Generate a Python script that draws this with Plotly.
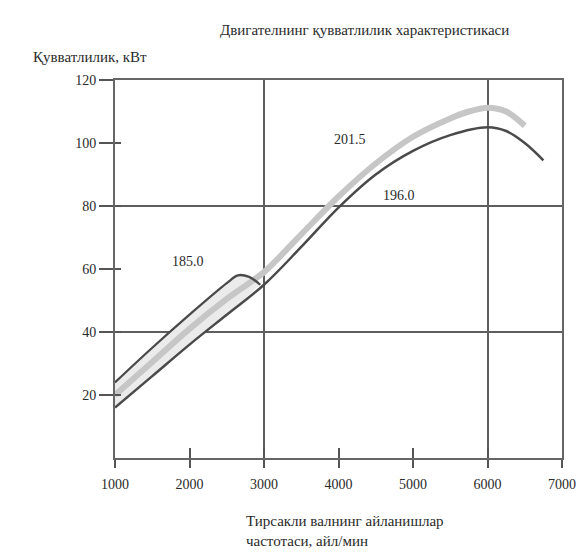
import plotly.graph_objects as go

# --- data ---
rpm_low = [1000, 1500, 2000, 2500, 3000, 3500, 4000, 4500, 5000, 5500, 6000, 6250, 6500, 6750]
kw_low = [16, 26, 36, 45.5, 55, 67, 79.5, 90, 97.5, 102.5, 105, 103.8, 100, 94.5]

rpm_light = [1000, 1500, 2000, 2500, 3000, 3500, 4000, 4500, 5000, 5500, 5750, 6000, 6250, 6500]
kw_light = [20, 30.5, 41, 50.5, 59, 71, 83, 93.5, 102, 107.8, 110, 111.2, 110, 105.5]

rpm_up = [1000, 1500, 2000, 2500, 2650, 2800, 2950]
kw_up = [24, 35, 45.5, 55.5, 58, 57.5, 55]

label_text = ["185.0", "201.5", "196.0"]
label_x = [1975, 4160, 4810]
label_y = [62.4, 101, 83.2]

x_ticks = [1000, 2000, 3000, 4000, 5000, 6000, 7000]
y_ticks = [20, 40, 60, 80, 100, 120]
x_grid = [3000, 6000]
y_grid = [40, 80]

title_text = "Двигателнинг қувватлилик характеристикаси"
y_title = "Қувватлилик, кВт"
x_title = "Тирсакли валнинг айланишлар<br>частотаси, айл/мин"

FONT = "Liberation Serif"
DARK = "#4a4a4a"
TXT = "#2a2a2a"

W, H = 580, 544
L, R, T, B = 107, 21, 72, 94
PW, PH = W - L - R, H - T - B


def px(x):
    return (x - L) / PW


def py(y):
    return (H - B - y) / PH


fig = go.Figure()

# light band between the two dark lines at low speed
k = sum(1 for v in rpm_low if v <= rpm_up[-1])
fig.add_trace(go.Scatter(
    x=rpm_up + rpm_low[:k][::-1], y=kw_up + kw_low[:k][::-1],
    fill="toself", fillcolor="#ebebeb", line=dict(width=0),
    mode="lines", hoverinfo="skip", showlegend=False))

fig.add_trace(go.Scatter(x=rpm_light, y=kw_light, mode="lines",
                         line=dict(color="#c6c6c6", width=6, shape="spline", smoothing=0.8),
                         showlegend=False))
fig.add_trace(go.Scatter(x=rpm_up, y=kw_up, mode="lines",
                         line=dict(color=DARK, width=2.3, shape="spline"),
                         showlegend=False))
fig.add_trace(go.Scatter(x=rpm_low, y=kw_low, mode="lines",
                         line=dict(color=DARK, width=2.5, shape="spline", smoothing=1.0),
                         showlegend=False))

for t, xv, yv in zip(label_text, label_x, label_y):
    fig.add_annotation(x=xv, y=yv, text=t, showarrow=False,
                       font=dict(family=FONT, size=14, color=TXT))

axis_common = dict(showline=True, linecolor="#666666", linewidth=2, mirror=True,
                   ticks="outside", tickcolor="#555555", tickwidth=2,
                   tickfont=dict(family=FONT, size=14, color=TXT),
                   showgrid=False, zeroline=False)

fig.update_layout(
    width=W, height=H,
    margin=dict(l=L, r=R, t=T, b=B),
    paper_bgcolor="white", plot_bgcolor="white",
    xaxis=dict(range=[1000, 7000], tickvals=x_ticks, ticklen=8,
               ticklabelstandoff=4,
               minor=dict(tickvals=x_grid, showgrid=True, gridcolor="#5e5e5e",
                          gridwidth=2, ticks=""),
               **axis_common),
    yaxis=dict(range=[0, 120], tickvals=y_ticks, ticklen=14,
               minor=dict(tickvals=y_grid, showgrid=True, gridcolor="#5e5e5e",
                          gridwidth=2, ticks=""),
               **axis_common),
    xaxis2=dict(overlaying="x", matches="x", side="bottom", ticks="inside",
                ticklen=10, tickwidth=2, tickcolor="#555555", tickvals=x_ticks,
                showticklabels=False, showgrid=False, zeroline=False, showline=False),
    yaxis2=dict(overlaying="y", matches="y", side="left", ticks="inside",
                ticklen=6, tickwidth=2, tickcolor="#555555", tickvals=y_ticks,
                showticklabels=False, showgrid=False, zeroline=False, showline=False),
    font=dict(family=FONT, size=14, color=TXT),
)

# invisible trace to activate the overlay axes (inner tick marks)
fig.add_trace(go.Scatter(x=[rpm_low[0]], y=[kw_low[0]], xaxis="x2", yaxis="y2",
                         mode="markers", marker=dict(opacity=0), hoverinfo="skip",
                         showlegend=False))

fig.add_annotation(xref="paper", yref="paper", x=px(359), y=py(22),
                   xanchor="center", yanchor="middle",
                   text=title_text, showarrow=False,
                   font=dict(family=FONT, size=15, color=TXT))
fig.add_annotation(xref="paper", yref="paper", x=px(22), y=py(49),
                   xanchor="left", yanchor="middle", text=y_title, showarrow=False,
                   font=dict(family=FONT, size=15, color=TXT))
fig.add_annotation(xref="paper", yref="paper", x=px(237), y=py(523),
                   xanchor="left", yanchor="middle", align="left",
                   text=x_title, showarrow=False,
                   font=dict(family=FONT, size=15, color=TXT))

fig.write_html("out.html")
